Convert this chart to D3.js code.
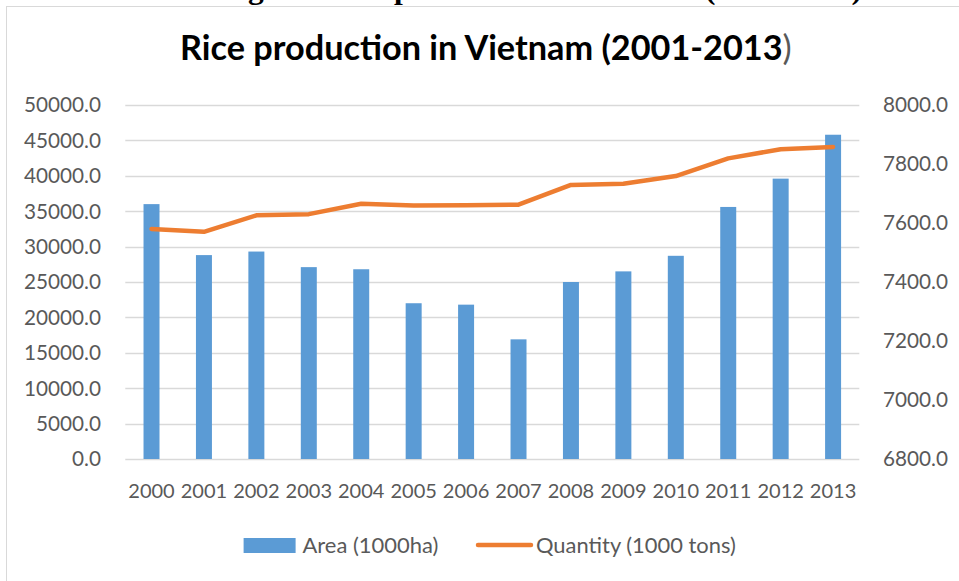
<!DOCTYPE html>
<html>
<head>
<meta charset="utf-8">
<script src="https://cdn.jsdelivr.net/npm/d3@7/dist/d3.min.js"></script>
<style>
  html, body { margin: 0; padding: 0; background: #fff; }
  svg { display: block; }
</style>
</head>
<body>
<svg id="chart" width="959" height="581"></svg>
<script>
const years = ["2000","2001","2002","2003","2004","2005","2006","2007","2008","2009","2010","2011","2012","2013"];
const area = [36000, 28800, 29300, 27100, 26800, 22000, 21800, 16900, 25000, 26500, 28700, 35600, 39600, 45800];
const quantity = [7580, 7570, 7626, 7630, 7665, 7659, 7660, 7662, 7729, 7733, 7759, 7819, 7850, 7858];
const leftTicks = [0, 5000, 10000, 15000, 20000, 25000, 30000, 35000, 40000, 45000, 50000];
const rightTicks = [6800, 7000, 7200, 7400, 7600, 7800, 8000];
const seriesNames = ["Area (1000ha)", "Quantity (1000 tons)"];
const titleText = "Rice production in Vietnam (2001-2013";
const captionText = "Figure: Rice production in Vietnam (2001-2013)";

const svg = d3.select("#chart");
const FONT = "Lato, 'Open Sans', sans-serif";
const TXT = "#595959";

function fitWidth(sel, target) {
  const w = sel.node().getComputedTextLength();
  const fs = parseFloat(sel.attr("font-size"));
  sel.attr("font-size", fs * target / w);
}

// clipped caption from the surrounding document
svg.append("text")
  .attr("x", 220).attr("y", -1)
  .attr("font-family", "'Liberation Serif', 'Times New Roman', serif")
  .attr("font-weight", "bold").attr("font-size", 30)
  .attr("textLength", 642).attr("lengthAdjust", "spacingAndGlyphs")
  .attr("fill", "#000")
  .text(captionText);

// chart frame
svg.append("rect")
  .attr("x", 6.5).attr("y", 6.5).attr("width", 1000).attr("height", 1000)
  .attr("fill", "#fff").attr("stroke", "#d9d9d9").attr("stroke-width", 1);

const x0 = 125.3, x1 = 859.3, yTop = 105, yBot = 459;

const x = d3.scaleBand().domain(years).range([x0, x1]).padding(0);
const yL = d3.scaleLinear().domain([0, 50000]).range([yBot, yTop]);
const yR = d3.scaleLinear().domain([6800, 8000]).range([yBot, yTop]);

// gridlines
svg.append("g").selectAll("line").data(leftTicks).join("line")
  .attr("x1", x0).attr("x2", x1)
  .attr("y1", d => Math.round(yL(d)) + 0.5).attr("y2", d => Math.round(yL(d)) + 0.5)
  .attr("stroke", "#d9d9d9").attr("stroke-width", 1.3);

// left axis labels
const lg = svg.append("g");
lg.selectAll("text").data(leftTicks).join("text")
  .attr("x", 101).attr("y", d => yL(d))
  .attr("dy", "0.36em")
  .attr("text-anchor", "end")
  .attr("font-family", FONT).attr("font-size", 20).attr("fill", TXT)
  .text(d => d3.format(".1f")(d));
fitWidth(lg.select("text:last-child"), 77);
lg.selectAll("text").attr("font-size", lg.select("text:last-child").attr("font-size"));

// right axis labels
const rg = svg.append("g");
rg.selectAll("text").data(rightTicks).join("text")
  .attr("x", 883).attr("y", d => yR(d))
  .attr("dy", "0.36em")
  .attr("text-anchor", "start")
  .attr("font-family", FONT).attr("font-size", 20).attr("fill", TXT)
  .text(d => d3.format(".1f")(d));
fitWidth(rg.select("text:last-child"), 65);
rg.selectAll("text").attr("font-size", rg.select("text:last-child").attr("font-size"));

// x labels
const xg = svg.append("g");
xg.selectAll("text").data(years).join("text")
  .attr("x", d => x(d) + x.bandwidth() / 2).attr("y", 491)
  .attr("dy", "0.36em")
  .attr("text-anchor", "middle")
  .attr("font-family", FONT).attr("font-size", 20).attr("fill", TXT)
  .text(d => d);
fitWidth(xg.select("text"), 46.5);
xg.selectAll("text").attr("font-size", xg.select("text").attr("font-size"));

// bars
const barW = x.bandwidth() * 0.305;
svg.append("g").selectAll("rect").data(area).join("rect")
  .attr("x", (d, i) => x(years[i]) + x.bandwidth() / 2 - barW / 2)
  .attr("width", barW)
  .attr("y", d => yL(d))
  .attr("height", d => yBot - yL(d))
  .attr("fill", "#5b9bd5");

// line
const line = d3.line()
  .x((d, i) => x(years[i]) + x.bandwidth() / 2)
  .y(d => yR(d));
svg.append("path").datum(quantity)
  .attr("d", line)
  .attr("fill", "none").attr("stroke", "#ed7d31")
  .attr("stroke-width", 4.5)
  .attr("stroke-linecap", "round").attr("stroke-linejoin", "round");

// title
const title = svg.append("text")
  .attr("x", 180).attr("y", 59.5)
  .attr("font-family", FONT).attr("font-size", 27);
title.append("tspan").attr("font-weight", "bold").attr("fill", "#000").text(titleText);
title.append("tspan").attr("font-weight", "normal").attr("fill", TXT).text(")");
fitWidth(title, 612);

// legend
svg.append("rect").attr("x", 243.6).attr("y", 538).attr("width", 52).attr("height", 15)
  .attr("fill", "#5b9bd5");
const l1 = svg.append("text").attr("x", 302.5).attr("y", 545.5).attr("dy", "0.36em")
  .attr("font-family", FONT).attr("font-size", 20).attr("fill", TXT).text(seriesNames[0]);
fitWidth(l1, 136);
svg.append("line").attr("x1", 478).attr("x2", 531).attr("y1", 545).attr("y2", 545)
  .attr("stroke", "#ed7d31").attr("stroke-width", 4.5).attr("stroke-linecap", "round");
const l2 = svg.append("text").attr("x", 536).attr("y", 545.5).attr("dy", "0.36em")
  .attr("font-family", FONT).attr("font-size", 20).attr("fill", TXT).text(seriesNames[1]);
fitWidth(l2, 200);
</script>
</body>
</html>
